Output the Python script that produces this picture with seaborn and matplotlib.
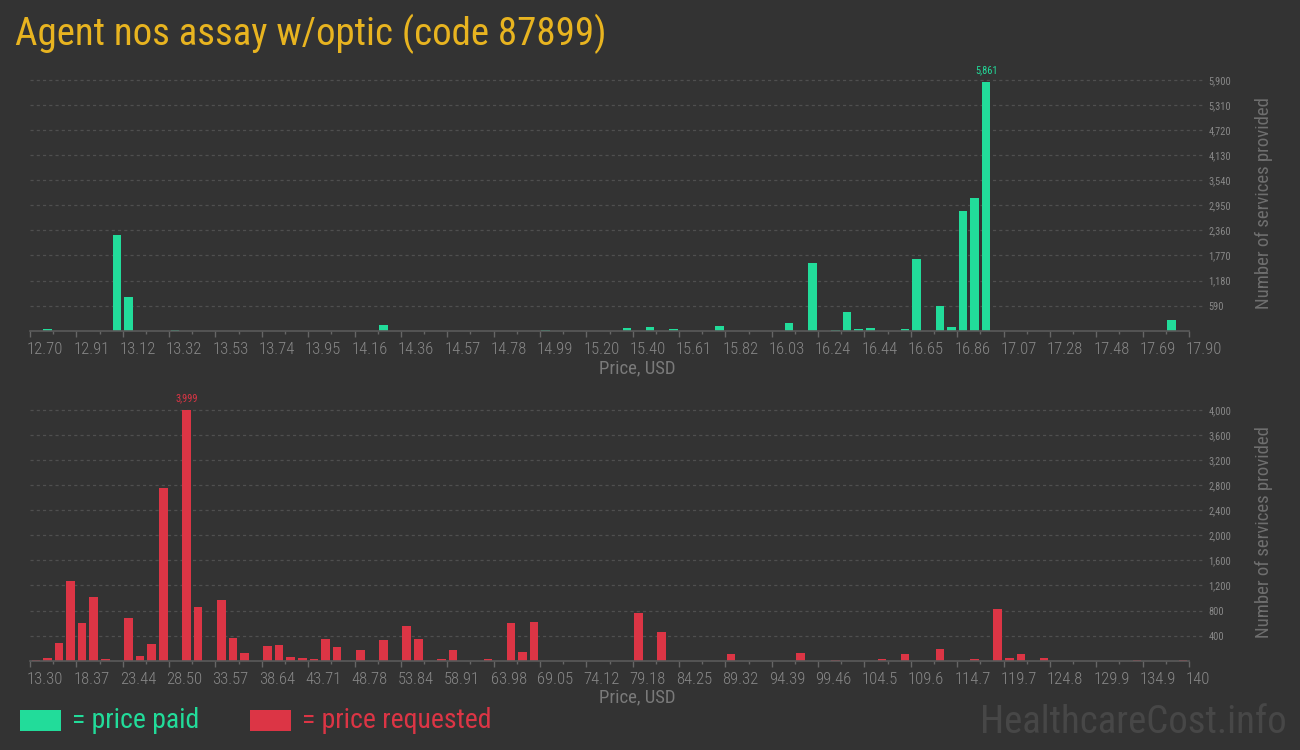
import numpy as np
import pandas as pd
import matplotlib
matplotlib.use("Agg")
import matplotlib.pyplot as plt
from matplotlib import font_manager as fm
from matplotlib.transforms import ScaledTranslation
from matplotlib.patches import Rectangle
from matplotlib.ticker import FixedLocator
import seaborn as sns

# ---------------- data ----------------
title = "Agent nos assay w/optic (code 87899)"

paid_price = [12.778, 13.090, 13.142, 13.350, 14.286, 15.014, 15.378, 15.482,
              15.586, 15.794, 16.106, 16.210, 16.314, 16.366, 16.418, 16.470,
              16.626, 16.678, 16.782, 16.834, 16.886, 16.938, 16.990, 17.822]
paid_count = [40, 2250, 795, 20, 134, 20, 64, 87,
              40, 111, 182, 1600, 20, 441, 40, 64,
              40, 1692, 583, 87, 2825, 3132, 5861, 252]

req_price = [13.93, 15.20, 16.47, 17.73, 19.00, 20.27, 21.53, 24.07, 25.34, 26.60,
             27.87, 30.41, 31.67, 34.21, 35.47, 36.74, 39.28, 40.55, 41.81, 43.08,
             44.35, 45.62, 46.88, 49.42, 51.95, 54.49, 55.76, 58.29, 59.56, 63.36,
             65.90, 67.17, 68.43, 79.84, 82.37, 89.97, 97.57, 101.37, 106.44, 108.97,
             112.78, 116.58, 118.48, 119.75, 121.01, 123.55, 133.68, 138.75]
req_count = [10, 43, 283, 1275, 603, 1019, 27, 683, 75, 267,
             2763, 3999, 859, 971, 363, 123, 235, 251, 59, 43,
             27, 347, 219, 171, 331, 555, 347, 25, 165, 21,
             597, 133, 613, 757, 453, 101, 117, 5, 27, 107,
             187, 27, 827, 43, 107, 43, 11, 11]

paid_xlabels = ["12.70", "12.91", "13.12", "13.32", "13.53", "13.74", "13.95", "14.16",
                "14.36", "14.57", "14.78", "14.99", "15.20", "15.40", "15.61", "15.82",
                "16.03", "16.24", "16.44", "16.65", "16.86", "17.07", "17.28", "17.48",
                "17.69", "17.90"]
req_xlabels = ["13.30", "18.37", "23.44", "28.50", "33.57", "38.64", "43.71", "48.78",
               "53.84", "58.91", "63.98", "69.05", "74.12", "79.18", "84.25", "89.32",
               "94.39", "99.46", "104.5", "109.6", "114.7", "119.7", "124.8", "129.9",
               "134.9", "140"]
paid_yticks = [590, 1180, 1770, 2360, 2950, 3540, 4130, 4720, 5310, 5900]
req_yticks = [400, 800, 1200, 1600, 2000, 2400, 2800, 3200, 3600, 4000]
paid_range = (12.70, 17.90)
req_range = (13.30, 140.0)
n_bins = 100

# ---------------- style ----------------
BG = "#333333"
GREEN = "#22dc9a"
RED = "#dc3545"
GOLD = "#e8b420"
GREY = "#888888"

sns.set_theme(style="dark", rc={"axes.facecolor": BG, "figure.facecolor": BG})

names = {f.name for f in fm.fontManager.ttflist}
cond_font = "Roboto Condensed" if "Roboto Condensed" in names else "Roboto"
plt.rcParams["font.family"] = [cond_font, "DejaVu Sans"]

W, H = 1300, 750
fig = plt.figure(figsize=(13, 7.5), dpi=100, facecolor=BG)


def px(x, y):
    return x / W, 1 - y / H


def make_panel(top_px, base_px, prices, counts, rng, xlabels, yticks, color):
    left, right = 30, 1189
    ax = fig.add_axes([left / W, 1 - base_px / H, (right - left) / W, (base_px - top_px) / H])
    ax.set_facecolor(BG)
    edges = np.linspace(rng[0], rng[1], n_bins + 1).tolist()
    df = pd.DataFrame({"price": prices, "count": counts})
    sns.histplot(data=df, x="price", weights="count", bins=edges, shrink=0.74,
                 color=color, alpha=1, linewidth=0, ax=ax)
    ax.set_xlim(*rng)
    pix_per_unit = 250.7 / yticks[-1]
    ax.set_ylim(0, (base_px - top_px) / pix_per_unit)
    for yv in yticks:
        ax.axhline(yv, xmin=0, xmax=1.014, color="#4f4f4f", lw=0.9,
                   linestyle=(0, (2.5, 2.5)), clip_on=False, zorder=0)
    for s in ["top", "right", "left"]:
        ax.spines[s].set_visible(False)
    ax.spines["bottom"].set_color("#5a5a5a")
    ax.spines["bottom"].set_linewidth(1.2)
    ticks = np.linspace(rng[0], rng[1], len(xlabels))
    ax.set_xticks(ticks)
    ax.set_xticklabels(xlabels)
    minor = (ticks[:-1] + ticks[1:]) / 2
    ax.xaxis.set_minor_locator(FixedLocator(minor))
    ax.tick_params(axis="x", which="major", bottom=True, length=4, width=1, color="#666666",
                   labelsize=12, labelcolor=GREY, pad=4)
    ax.tick_params(axis="x", which="minor", bottom=True, length=2.5, width=1, color="#666666")
    off = ScaledTranslation(-3 / 100, 0, fig.dpi_scale_trans)
    for lab in ax.get_xticklabels():
        lab.set_horizontalalignment("left")
        lab.set_fontweight("light")
        lab.set_transform(lab.get_transform() + off)
    ax.yaxis.tick_right()
    ax.set_yticks(yticks)
    ax.set_yticklabels([f"{v:,}" for v in yticks])
    ax.tick_params(axis="y", length=0, pad=14, labelsize=7.5, labelcolor=GREY)
    ax.set_xlabel("")
    ax.set_ylabel("")
    ax.grid(False)
    i = int(np.argmax(counts))
    ax.annotate(f"{counts[i]:,}", xy=(prices[i], counts[i]), xytext=(0, 5),
                textcoords="offset points", ha="center", va="bottom",
                color=color, fontsize=7.5)
    return ax


ax1 = make_panel(62, 330.7, paid_price, paid_count, paid_range, paid_xlabels,
                 paid_yticks, GREEN)
ax2 = make_panel(392, 660.7, req_price, req_count, req_range, req_xlabels,
                 req_yticks, RED)

for yc in (368, 697):
    fig.text(*px(637, yc), "Price, USD", ha="center", va="center", color="#7a7a7a", fontsize=13.5)
for yc in (203, 532):
    fig.text(*px(1264, yc), "Number of services provided", ha="center", va="center",
             rotation=90, color="#6f6f6f", fontsize=13.5)

fig.text(*px(15, 45), title, ha="left", va="baseline", color=GOLD, fontsize=28)

fig.add_artist(Rectangle(px(20, 731), 41 / W, 21 / H, transform=fig.transFigure,
                         facecolor=GREEN, edgecolor="none"))
fig.text(*px(72, 728), "= price paid", ha="left", va="baseline", color=GREEN, fontsize=20)
fig.add_artist(Rectangle(px(250, 731), 41 / W, 21 / H, transform=fig.transFigure,
                         facecolor=RED, edgecolor="none"))
fig.text(*px(302, 728), "= price requested", ha="left", va="baseline", color=RED, fontsize=20)

fig.text(*px(1287, 733), "HealthcareCost.info", ha="right", va="baseline",
         color="#474747", fontsize=28)

fig.savefig("out.png", dpi=100, facecolor=BG)
